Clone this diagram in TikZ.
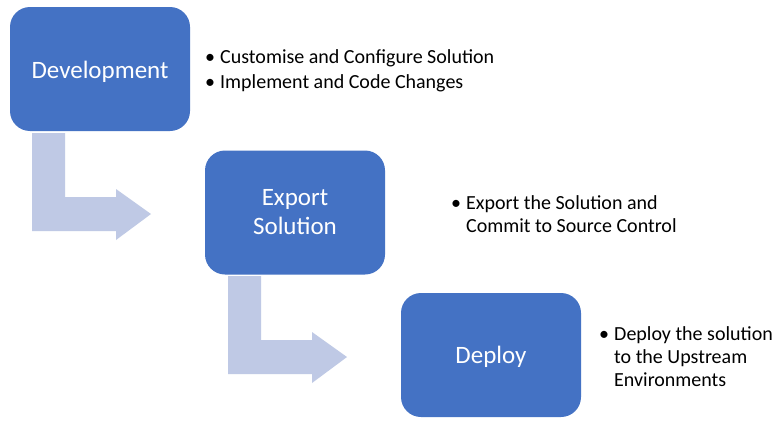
\documentclass[tikz,border=0pt]{standalone}
\usepackage{fontspec}
\setmainfont{Carlito}
\definecolor{boxblue}{RGB}{68,114,196}
\definecolor{arrowblue}{RGB}{191,201,229}
\begin{document}
\begin{tikzpicture}[x=1pt,y=-1pt,
  stagebox/.style={draw=none,fill=boxblue,rounded corners=20pt,minimum width=180pt,minimum height=124pt,
    text=white,font=\fontsize{25}{29}\selectfont,align=center,inner sep=0pt},
  bulletdot/.style={font=\fontsize{20}{24}\selectfont,inner sep=0pt,anchor=base},
  itemtext/.style={font=\fontsize{20}{23}\selectfont,inner sep=0pt,anchor=base west},
  bentarrow/.style={fill=arrowblue,draw=none}]
\useasboundingbox (0,0) rectangle (784,423);
\fill[white] (0,0) rectangle (784,423);
% arrows
\fill[bentarrow] (32,133) -- (65,133) -- (65,197) -- (116,197) -- (116,189) -- (151,214) -- (116,240) -- (116,231) -- (32,231) -- cycle;
\fill[bentarrow] (228,276) -- (261,276) -- (261,340) -- (312,340) -- (312,332) -- (347,357) -- (312,383) -- (312,374) -- (228,374) -- cycle;
% boxes
\node[stagebox] (dev) at (100,69) {\raisebox{-3pt}[\height][\depth]{Development}};
\node[stagebox] (exp) at (295,212.5) {Export\\Solution};
\node[stagebox] (dep) at (491,355) {\raisebox{-2pt}[\height][\depth]{Deploy}};
% bullets
\node[bulletdot] (d1) at (210,63) {\textbullet};
\node[itemtext] (t1) at (220,63) {Customise and Configure Solution};
\node[bulletdot] (d2) at (210,88) {\textbullet};
\node[itemtext] (t2) at (220,88) {Implement and Code Changes};
\node[bulletdot] (d3) at (456,209) {\textbullet};
\node[itemtext] (t3) at (466,209) {\vtop{\hbox{Export the Solution and}\hbox{Commit to Source Control}}};
\node[bulletdot] (d4) at (604,340) {\textbullet};
\node[itemtext] (t4) at (614,340) {\vtop{\hbox{Deploy the solution}\hbox{to the Upstream}\hbox{Environments}}};
\end{tikzpicture}
\end{document}
